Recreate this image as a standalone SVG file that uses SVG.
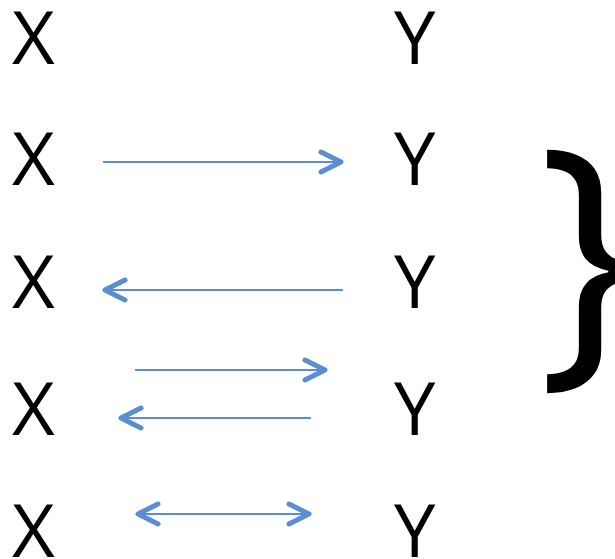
<svg xmlns="http://www.w3.org/2000/svg" width="615" height="559" viewBox="0 0 615 559">
<style>
.lbl{font-family:"Open Sans","Noto Sans",sans-serif;font-size:74px;fill:#000}
.brace{font-family:"Open Sans","Noto Sans",sans-serif;font-size:279px;fill:#000}
.conn line{stroke:#5A8FCB;stroke-width:2;fill:none}
</style>
<defs>
<marker id="head" markerUnits="userSpaceOnUse" markerWidth="30" markerHeight="30" refX="0" refY="0" orient="auto-start-reverse" overflow="visible" viewBox="-25 -15 30 30">
<path d="M-20,-10 L0,0 L-20,10" fill="none" stroke="#5A8FCB" stroke-width="5" stroke-linecap="round" stroke-linejoin="round"/>
</marker>
</defs>
<rect width="615" height="559" fill="#fff"/>
<g id="x1"><text class="lbl" x="12" y="64">X</text></g>
<g id="x2"><text class="lbl" x="12" y="185">X</text></g>
<g id="x3"><text class="lbl" x="12" y="308">X</text></g>
<g id="x4"><text class="lbl" x="12" y="435">X</text></g>
<g id="x5"><text class="lbl" x="12" y="557">X</text></g>
<g id="y1"><text class="lbl" x="394" y="64">Y</text></g>
<g id="y2"><text class="lbl" x="394" y="185">Y</text></g>
<g id="y3"><text class="lbl" x="394" y="308">Y</text></g>
<g id="y4"><text class="lbl" x="394" y="435">Y</text></g>
<g id="y5"><text class="lbl" x="394" y="557">Y</text></g>
<g id="brace"><text class="brace" x="538" y="349">}</text></g>
<g id="connectors" class="conn">
<line x1="103" y1="162" x2="341" y2="162" marker-end="url(#head)"/>
<line x1="343" y1="290" x2="105" y2="290" marker-end="url(#head)"/>
<line x1="135" y1="370" x2="325" y2="370" marker-end="url(#head)"/>
<line x1="311" y1="418" x2="121" y2="418" marker-end="url(#head)"/>
<line x1="138" y1="514" x2="309" y2="514" marker-start="url(#head)" marker-end="url(#head)"/>
</g>
</svg>
